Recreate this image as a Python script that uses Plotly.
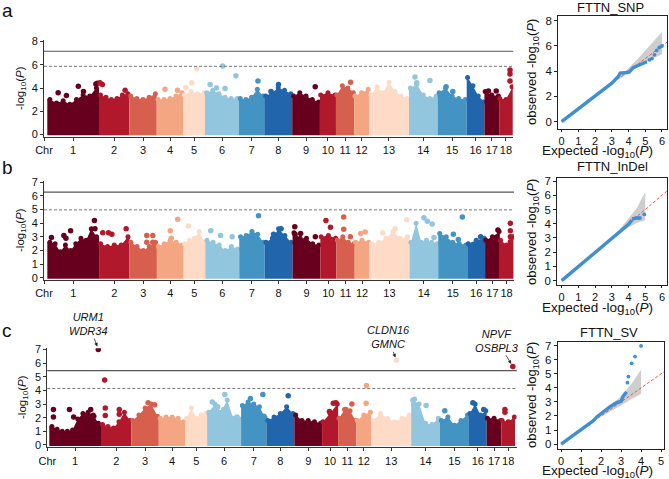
import plotly.graph_objects as go

W, H = 669, 479
FONT = "Liberation Sans, Arial, sans-serif"

# ---------------- data ----------------
chr_names = [str(i) for i in range(1, 19)]
chr_len = [274, 161, 145, 141, 115, 180, 134, 148, 147, 85, 97, 78, 212, 152, 154, 94, 78, 72]
palette = ["#67001F", "#B2182B", "#D6604D", "#F4A582", "#FDDBC7", "#92C5DE", "#4393C3", "#2166AC"]

# upper envelope of dense point cloud per chromosome (-log10 P)
env_snp = [
    [3.0, 2.7, 2.9, 2.6, 3.0, 3.4, 3.3, 4.0], [3.4, 3.2, 3.0, 3.1, 3.4, 3.5], [3.3, 3.1, 3.0, 3.2, 3.5],
    [3.0, 3.0, 3.1, 3.3, 3.6], [3.4, 3.7, 3.5, 3.6], [3.6, 3.8, 3.5, 3.2, 3.1, 3.1], [3.1, 3.0, 3.2, 3.9, 3.3],
    [3.3, 3.6, 4.0, 3.8, 3.5], [3.3, 3.6, 3.3, 3.0, 2.8], [3.4, 3.6, 3.4], [3.4, 4.2, 4.0, 3.6], [3.3, 3.6, 3.9],
    [3.4, 4.1, 3.6, 4.5, 3.7, 3.3, 3.1], [4.0, 4.3, 3.4, 3.1, 3.3], [3.6, 4.0, 3.3, 3.1, 3.0], [4.9, 4.2, 3.3, 2.8],
    [3.7, 3.4, 3.3], [3.1, 3.0, 4.1],
]
top_snp_chr = [1, 1, 1, 1, 1, 1, 2, 2, 2, 4, 4, 5, 5, 5, 6, 6, 6, 6, 6, 7, 8, 8, 9, 11, 14, 14, 14, 15, 15, 17, 17, 18, 18, 18]
top_snp_pos = [0.21, 0.37, 0.6, 0.7, 0.94, 0.97, 0.03, 0.11, 0.86, 0.31, 0.78, 0.62, 0.38, 0.12, 0.52, 0.91, 0.15, 0.34, 0.59,
               0.75, 0.51, 0.24, 0.83, 0.8, 0.21, 0.73, 0.27, 0.29, 0.52, 0.27, 0.8, 0.8, 0.8, 0.8]
top_snp_val = [3.6, 3.35, 4.15, 3.7, 4.35, 4.4, 4.45, 4.3, 3.8, 3.9, 3.8, 5.65, 4.45, 4.05, 5.9, 5.05, 4.3, 4.0, 3.95,
               4.6, 4.3, 3.7, 4.1, 4.5, 4.95, 4.65, 4.45, 4.1, 3.7, 3.75, 3.75, 5.55, 5.2, 4.6]

env_indel = [
    [2.6, 2.5, 1.9, 2.4, 2.0, 2.5, 2.9, 2.75, 3.6, 3.0], [2.5, 2.3, 2.4, 2.4, 3.0], [2.6, 2.3, 2.0, 2.3, 2.6],
    [2.3, 2.5, 2.75, 2.6, 2.4], [2.5, 2.75, 2.9, 3.4, 2.6], [2.75, 2.6, 2.4, 2.0, 2.3, 2.1], [3.0, 3.1, 3.4, 3.2, 2.6],
    [2.6, 2.9, 3.6, 3.1, 2.6], [3.3, 2.9, 2.9, 2.5, 2.4], [3.0, 3.1, 2.9], [2.75, 3.0, 2.6, 2.5], [2.6, 2.75, 2.6],
    [2.5, 2.6, 2.9, 3.4, 2.9, 3.0], [2.6, 4.0, 2.6, 2.75, 2.6, 2.5], [3.25, 3.0, 2.6, 2.5, 2.4], [2.5, 2.75, 2.9],
    [2.75, 3.0, 3.4], [2.75, 2.4, 3.0],
]
top_indel_chr = [1, 1, 1, 1, 1, 1, 2, 2, 2, 2, 3, 3, 3, 3, 4, 4, 4, 5, 6, 6, 6, 7, 8, 8, 9, 9, 9, 9, 10, 10, 11, 11, 11,
                 12, 12, 13, 13, 13, 14, 14, 14, 14, 15, 15, 15, 16, 17, 18, 18, 18, 18]
top_indel_pos = [0.08, 0.32, 0.45, 0.36, 0.91, 0.92, 0.12, 0.31, 0.42, 0.89, 0.63, 0.85, 0.63, 0.85, 0.78, 0.5, 0.54, 0.22,
                 0.16, 0.45, 0.79, 0.76, 0.32, 0.59, 0.08, 0.29, 0.82, 0.09, 0.35, 0.63, 0.4, 0.4, 0.76, 0.4, 0.71,
                 0.33, 0.64, 0.93, 0.5, 0.62, 0.79, 0.85, 0.52, 0.83, 0.69, 0.75, 0.87, 0.77, 0.77, 0.77, 0.77]
top_indel_val = [2.95, 3.1, 3.45, 2.9, 4.2, 3.6, 3.3, 3.3, 3.2, 3.6, 3.1, 3.1, 2.6, 2.6, 4.3, 3.45, 2.9, 3.8,
                 3.45, 3.1, 3.0, 4.55, 3.2, 3.6, 3.75, 3.25, 3.0, 3.2, 4.2, 3.7, 4.45, 3.55, 3.0, 3.25, 3.35,
                 3.3, 3.6, 4.25, 4.4, 4.15, 3.95, 2.95, 3.2, 4.45, 2.8, 3.0, 3.5, 4.0, 3.45, 3.0, 2.65]

env_sv = [
    [1.35, 1.15, 1.0, 1.0, 1.1, 1.9, 2.3, 2.4, 2.2, 1.6], [1.5, 1.35, 1.25, 1.7, 2.4, 1.8], [1.8, 2.2, 2.7, 3.0, 2.1],
    [1.95, 2.05, 2.05, 1.95, 1.7], [1.95, 2.7, 1.95, 2.2, 2.3], [2.4, 3.0, 2.4, 3.3, 1.95, 1.9], [2.9, 3.15, 3.0, 2.8, 2.0],
    [1.8, 2.05, 2.3, 2.8, 2.3], [2.2, 1.8, 1.8, 1.7, 1.6], [1.7, 2.3, 3.0], [1.95, 2.6, 2.5, 1.8], [1.8, 2.2, 2.4],
    [1.8, 2.3, 1.95, 1.7, 1.95, 2.2], [3.3, 3.0, 1.6, 1.5, 1.95], [1.8, 2.05, 1.45, 1.8, 2.2], [2.3, 3.0, 2.2, 2.5],
    [1.95, 1.95, 1.8], [1.8, 1.7, 2.05],
]
top_sv_chr = [1, 1, 1, 1, 1, 1, 1, 2, 2, 2, 2, 2, 3, 3, 6, 6, 6, 6, 6, 7, 7, 7, 8, 10, 10, 10, 11, 11, 12, 12, 12, 13,
              14, 14, 15, 16, 16, 18, 18, 18]
top_sv_pos = [0.947, 0.08, 0.08, 0.39, 0.47, 0.8, 0.86, 0.12, 0.14, 0.6, 0.14, 0.6, 0.61, 0.85, 0.15, 0.52, 0.31, 0.49, 0.88,
              0.37, 0.86, 0.9, 0.78, 0.7, 0.86, 0.46, 0.75, 0.42, 0.68, 0.66, 0.73, 0.63, 0.11, 0.52, 0.17, 0.22, 0.83,
              0.26, 0.26, 0.84]
top_sv_val = [7.0, 2.6, 2.05, 2.6, 2.05, 2.6, 2.1, 4.75, 2.7, 2.6, 2.15, 2.25, 3.1, 2.95, 3.15, 3.7, 2.8, 2.6, 2.05,
              3.4, 3.7, 2.1, 3.6, 3.05, 3.1, 2.45, 3.0, 2.6, 4.35, 3.05, 2.1, 6.2, 3.35, 2.9, 2.5, 3.1, 2.6,
              2.6, 2.4, 5.75]

# significance thresholds (suggestive dashed, genome-wide solid)
thr_snp = [5.87, 7.17]
thr_indel = [4.98, 6.28]
thr_sv = [4.14, 5.44]

# gene labels for panel c
gene_chr = [1, 13, 18]
gene_pos = [0.947, 0.63, 0.84]
gene_val = [7.0, 6.2, 5.75]
gene_text = ["URM1<br>WDR34", "CLDN16<br>GMNC", "NPVF<br>OSBPL3"]

# QQ plots: bulk curve, tail points, confidence band
qq_snp_bulk_x = [0, 1, 2, 3, 3.4, 3.5, 3.9, 4.05, 4.3, 4.6, 4.9, 5.1]
qq_snp_bulk_y = [0, 1, 2, 3.05, 3.6, 3.85, 3.9, 3.95, 4.3, 4.45, 4.6, 4.75]
qq_snp_tail_x = [5.25, 5.4, 5.55, 5.68, 5.84, 6.0]
qq_snp_tail_y = [4.9, 5.0, 5.3, 5.65, 5.88, 6.0]
qq_snp_band_x = [3.5, 4.0, 4.5, 5.0, 5.5, 6.0]
qq_snp_band_hi = [3.6, 4.25, 4.9, 5.65, 6.35, 7.1]
qq_snp_band_lo = [3.4, 3.85, 4.3, 4.65, 5.05, 5.35]

qq_indel_bulk_x = [0, 1, 2, 3, 3.5, 4.0, 4.2]
qq_indel_bulk_y = [0, 1, 2, 3.0, 3.5, 3.95, 4.25]
qq_indel_tail_x = [4.3, 4.44, 4.56, 4.68, 4.94]
qq_indel_tail_y = [4.35, 4.4, 4.4, 4.4, 4.65]
qq_indel_band_x = [3.5, 4.0, 4.5, 5.0]
qq_indel_band_hi = [3.65, 4.35, 5.1, 6.25]
qq_indel_band_lo = [3.35, 3.75, 4.05, 4.25]

qq_sv_bulk_x = [0, 1, 1.6, 1.8, 2.1, 2.45, 2.78, 3.0, 3.1, 3.2, 3.28]
qq_sv_bulk_y = [0, 1.0, 1.65, 1.95, 2.3, 2.67, 2.95, 3.05, 3.4, 3.6, 3.72]
qq_sv_tail_x = [3.32, 3.37, 3.53, 3.7, 4.0]
qq_sv_tail_y = [4.38, 4.81, 5.76, 6.24, 7.0]
qq_sv_band_x = [2.0, 2.5, 3.0, 3.5, 4.0]
qq_sv_band_hi = [2.1, 2.75, 3.4, 4.25, 5.3]
qq_sv_band_lo = [1.95, 2.35, 2.75, 3.2, 3.57]

# ---------------- layout helpers ----------------
def fx(px):
    return px / W

def fy(py):
    return 1 - py / H

starts = []
acc = 0
for L in chr_len:
    starts.append(acc)
    acc += L
total = acc
centers = [s + L / 2 for s, L in zip(starts, chr_len)]

fig = go.Figure()
BASE = -0.08

def manhattan(xa, ya, env, tchr, tpos, tval):
    for i, (s, L) in enumerate(zip(starts, chr_len)):
        col = palette[i % 8]
        e = env[i]
        n = len(e)
        xs = [s + L * (0.05 + 0.9 * k / (n - 1)) for k in range(n)]
        fig.add_trace(go.Scatter(
            x=[s, s] + xs + [s + L, s + L], y=[BASE, e[0]] + e + [e[-1], BASE],
            fill="toself", fillcolor=col, mode="lines", line=dict(width=0, color=col),
            xaxis=xa, yaxis=ya, hoverinfo="skip", showlegend=False))
        fig.add_trace(go.Scatter(
            x=xs, y=e, mode="markers", marker=dict(color=col, size=5, line=dict(width=0)),
            xaxis=xa, yaxis=ya, hoverinfo="skip", showlegend=False))
    xs = [starts[c - 1] + chr_len[c - 1] * p for c, p in zip(tchr, tpos)]
    cols = [palette[(c - 1) % 8] for c in tchr]
    fig.add_trace(go.Scatter(
        x=xs, y=tval, mode="markers", marker=dict(color=cols, size=5.5, line=dict(width=0)),
        xaxis=xa, yaxis=ya, hoverinfo="skip", showlegend=False))

def qq(xa, ya, bx, by, tx, ty, bandx, hi, lo, xmax):
    fig.add_trace(go.Scatter(
        x=bandx + bandx[::-1], y=hi + lo[::-1], fill="toself", fillcolor="rgba(190,190,190,0.75)",
        mode="lines", line=dict(width=0), xaxis=xa, yaxis=ya, hoverinfo="skip", showlegend=False))
    fig.add_trace(go.Scatter(
        x=[0, xmax], y=[0, xmax], mode="lines", line=dict(color="#F0504A", width=1, dash="3px,2px"),
        xaxis=xa, yaxis=ya, hoverinfo="skip", showlegend=False))
    fig.add_trace(go.Scatter(
        x=bx, y=by, mode="lines", line=dict(color="#3F8FD2", width=3.4),
        xaxis=xa, yaxis=ya, hoverinfo="skip", showlegend=False))
    fig.add_trace(go.Scatter(
        x=tx, y=ty, mode="markers", marker=dict(color="#3F8FD2", size=3.8),
        xaxis=xa, yaxis=ya, hoverinfo="skip", showlegend=False))

manhattan("x", "y", env_snp, top_snp_chr, top_snp_pos, top_snp_val)
manhattan("x3", "y3", env_indel, top_indel_chr, top_indel_pos, top_indel_val)
manhattan("x5", "y5", env_sv, top_sv_chr, top_sv_pos, top_sv_val)

qq("x2", "y2", qq_snp_bulk_x, qq_snp_bulk_y, qq_snp_tail_x, qq_snp_tail_y,
   qq_snp_band_x, qq_snp_band_hi, qq_snp_band_lo, 6.3)
qq("x4", "y4", qq_indel_bulk_x, qq_indel_bulk_y, qq_indel_tail_x, qq_indel_tail_y,
   qq_indel_band_x, qq_indel_band_hi, qq_indel_band_lo, 6.3)
qq("x6", "y6", qq_sv_bulk_x, qq_sv_bulk_y, qq_sv_tail_x, qq_sv_tail_y,
   qq_sv_band_x, qq_sv_band_hi, qq_sv_band_lo, 5.15)

tickfont = dict(family=FONT, size=11, color="#111")
qqtickfont = dict(family=FONT, size=11.5, color="#111")
qqxtickfont = dict(family=FONT, size=11, color="#111")
AX = "#333"

def man_x(dom, rng, anchor):
    return dict(domain=dom, range=rng, showgrid=False, zeroline=False, showline=True, linecolor=AX,
                linewidth=1, ticks="outside", ticklen=3, tickcolor=AX,
                tickvals=[rng[0]] + centers, ticktext=["Chr"] + chr_names, tickfont=tickfont,
                tickangle=0, anchor=anchor, automargin=False)

def man_y(dom, rng, tv, anchor):
    return dict(domain=dom, range=rng, showgrid=False, zeroline=False, showline=True, linecolor=AX,
                linewidth=1, ticks="outside", ticklen=3, tickcolor=AX, tickvals=tv, tickfont=tickfont,
                anchor=anchor, automargin=False)

def qq_x(dom, rng, tv, anchor):
    return dict(domain=dom, range=rng, showgrid=False, zeroline=False, showline=True, mirror=True,
                linecolor="#222", linewidth=1, ticks="outside", ticklen=2, tickcolor="#222", tickvals=tv,
                tickfont=qqxtickfont, anchor=anchor, automargin=False)

def qq_y(dom, rng, tv, anchor):
    return dict(domain=dom, range=rng, showgrid=False, zeroline=False, showline=True, mirror=True,
                linecolor="#222", linewidth=1, ticks="outside", ticklen=3, tickcolor="#222", tickvals=tv,
                tickfont=qqtickfont, anchor=anchor, automargin=False)

xa_rng = [-17.5, total + 3]
xc_rng = [-10.6, total + 9]

fig.update_layout(
    width=W, height=H, margin=dict(l=0, r=0, t=0, b=0, autoexpand=False),
    paper_bgcolor="white", plot_bgcolor="white", showlegend=False,
    font=dict(family=FONT, color="#111"),
    xaxis=man_x([fx(44), fx(513.3)], xa_rng, "y"),
    yaxis=man_y([fy(136.7), fy(40)], [-0.2, 8.14], [0, 2, 4, 6, 8], "x"),
    xaxis3=man_x([fx(44), fx(514)], xa_rng, "y3"),
    yaxis3=man_y([fy(279.5), fy(181)], [-0.13, 7.1], list(range(8)), "x3"),
    xaxis5=man_x([fx(47.3), fx(516.7)], xc_rng, "y5"),
    yaxis5=man_y([fy(447.3), fy(348.3)], [-0.17, 7.08], list(range(8)), "x5"),
    xaxis2=qq_x([fx(558.3), fx(667)], [-0.2, 6.3], list(range(7)), "y2"),
    yaxis2=qq_y([fy(128.5), fy(15.7)], [-0.54, 8.4], [0, 2, 4, 6, 8], "x2"),
    xaxis4=qq_x([fx(557.3), fx(667)], [-0.26, 6.3], list(range(7)), "y4"),
    yaxis4=qq_y([fy(284.5), fy(178.3)], [-0.27, 7.19], list(range(8)), "x4"),
    xaxis6=qq_x([fx(557.7), fx(664)], [-0.17, 5.15], list(range(6)), "y6"),
    yaxis6=qq_y([fy(448.5), fy(341.7)], [-0.32, 7.3], list(range(8)), "x6"),
)

shapes = []
for xa, ya, thr in [("x", "y", thr_snp), ("x3", "y3", thr_indel), ("x5", "y5", thr_sv)]:
    shapes.append(dict(type="line", xref=xa + " domain", yref=ya, x0=0, x1=1, y0=thr[0], y1=thr[0],
                       line=dict(color="#777", width=1, dash="3px,2px")))
    shapes.append(dict(type="line", xref=xa + " domain", yref=ya, x0=0, x1=1, y0=thr[1], y1=thr[1],
                       line=dict(color="#555", width=1.2)))
fig.update_layout(shapes=shapes)

ann = []
def txt(x, y, t, size, angle=0, **kw):
    ann.append(dict(x=fx(x), y=fy(y), xref="paper", yref="paper", text=t, showarrow=False,
                    textangle=angle, font=dict(family=FONT, size=size, color="#111"),
                    xanchor="center", yanchor="middle", **kw))

# panel letters
txt(7, 10, "a", 19)
txt(7, 167, "b", 19)
txt(7, 330, "c", 19)

ylab = "-log<sub>10</sub>(<i>P</i>)"
txt(21, 88, ylab, 11.5, -90)
txt(21, 230, ylab, 11.5, -90)
txt(23, 397, ylab, 11.5, -90)

# QQ titles and axis titles
txt(610, 8, "FTTN_SNP", 13)
txt(612, 166, "FTTN_InDel", 13)
txt(609, 332, "FTTN_SV", 13)
xl = "Expected -log<sub>10</sub>(<i>P</i>)"
yl = "observed -log<sub>10</sub>(<i>P</i>)"
txt(597, 151.5, xl, 13.5)
txt(597, 308.5, xl, 13.5)
txt(597, 471.5, xl, 13.5)
txt(532, 72, yl, 13, -90)
txt(532, 232, yl, 13, -90)
txt(532, 395, yl, 13, -90)

# gene labels
offsets = [(-9.3, -25.3), (-8.2, -23), (-15.7, -25.7)]
for c, p, v, t, (ax, ay) in zip(gene_chr, gene_pos, gene_val, gene_text, offsets):
    ann.append(dict(x=starts[c - 1] + chr_len[c - 1] * p, y=v, xref="x5", yref="y5",
                    text="<i>" + t.replace("<br>", "</i><br><i>") + "</i>",
                    showarrow=True, ax=ax, ay=ay, arrowhead=2, arrowsize=0.9, arrowwidth=0.8,
                    arrowcolor="#222", standoff=3, font=dict(family=FONT, size=11, color="#111")))

fig.update_layout(annotations=ann)
fig.write_html("out.html", config={"responsive": False, "displayModeBar": False},
               post_script="document.body.style.margin='0';document.body.style.overflow='hidden';")
